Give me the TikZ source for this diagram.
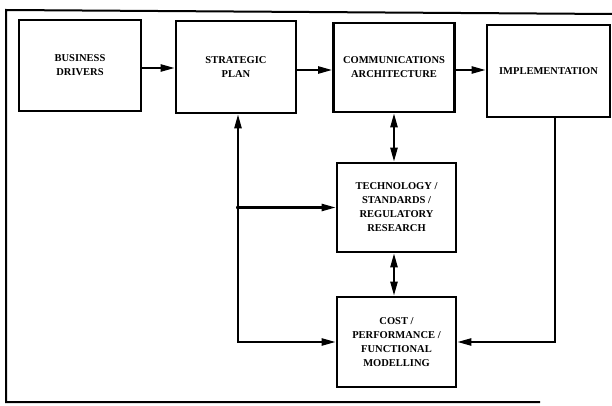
\documentclass[tikz,border=0pt]{standalone}
\usepackage{fontspec}
\setmainfont{Liberation Serif}
\usetikzlibrary{arrows.meta}
\begin{document}
\begin{tikzpicture}[x=1pt,y=-1pt,
  blk/.style={draw,line width=2.6pt,rectangle,align=center,inner sep=2pt,
    font=\bfseries\fontsize{10.5}{14}\selectfont},
  conn/.style={line width=2.2pt},
  tip/.tip={Triangle[length=14pt,width=7pt]},
  arr/.style={conn,-tip},
  darr/.style={conn,tip-tip}]
\useasboundingbox (0,0) rectangle (612,406);
% outer frame (partial)
\draw[line width=2pt] (540,402) -- (6,402) -- (6,10) -- (612,14);
% boxes
\node[blk,minimum width=122pt,minimum height=91pt] (bd) at (80,65.5) {BUSINESS\\DRIVERS};
\node[blk,minimum width=120pt,minimum height=92pt] (sp) at (236,67) {STRATEGIC\\PLAN};
\node[blk,minimum width=121pt,minimum height=89pt] (ca) at (394,67.5) {COMMUNICATIONS\\ARCHITECTURE};
\node[blk,minimum width=123pt,minimum height=92pt] (imp) at (548.5,71) {IMPLEMENTATION};
\node[blk,minimum width=119pt,minimum height=89pt] (tech) at (396.5,207.5) {TECHNOLOGY /\\STANDARDS /\\REGULATORY\\RESEARCH};
\node[blk,minimum width=119pt,minimum height=90pt] (cost) at (396.5,342) {COST /\\PERFORMANCE /\\FUNCTIONAL\\MODELLING};
% horizontal flow
\draw[arr] (bd.east |- 0,68) -- (sp.west |- 0,68);
\draw[arr] (sp.east |- 0,70) -- (ca.west |- 0,70);
\draw[arr] (ca.east |- 0,70) -- (imp.west |- 0,70);
% vertical double arrows
\draw[darr] (ca.south) -- (ca.south |- tech.north);
\draw[darr] (tech.south -| ca.south) -- (cost.north -| ca.south);
% left feedback line
\coordinate (lx) at ([xshift=2pt]sp.south);
\draw[darr] (cost.west) -| (lx);
\draw[arr] (tech.west -| lx) -- (tech.west);
\fill (tech.west -| lx) circle (2pt);
% right line
\coordinate (rx) at ([xshift=6.5pt]imp.south);
\draw[arr] (rx) |- (cost.east);
\end{tikzpicture}
\end{document}
